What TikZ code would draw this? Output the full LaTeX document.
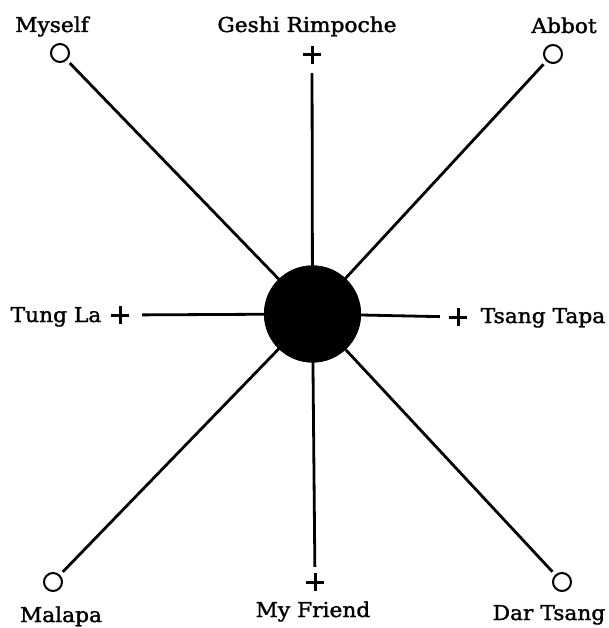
\documentclass[tikz,border=0pt]{standalone}
\usepackage{fontspec}
\setmainfont[FakeBold=1.6,FakeStretch=1.06]{DejaVu Serif}
\begin{document}
\begin{tikzpicture}[x=1pt,y=-1pt,
  lbl/.style={font=\fontsize{20.5}{24}\selectfont, anchor=base, inner sep=0pt},
  opencirc/.style={circle, draw, line width=2pt, minimum size=18pt, inner sep=0pt},
  plusmark/.style={minimum size=18pt, inner sep=0pt,
    path picture={\draw[line width=3pt]
      (path picture bounding box.north) -- (path picture bounding box.south)
      (path picture bounding box.west) -- (path picture bounding box.east);}},
  spoke/.style={line width=2.8pt},
  hub/.style={circle, fill=black, minimum size=97pt, inner sep=0pt}]
\useasboundingbox (0,0) rectangle (609,628);
% hub
\node[hub] (c) at (312.5,314) {};
% end marks
\node[opencirc] (myself) at (60,53) {};
\node[plusmark] (geshi) at (312,55) {};
\node[opencirc] (abbot) at (553,54) {};
\node[plusmark] (tung) at (120,315) {};
\node[plusmark] (tsang) at (458,317) {};
\node[opencirc] (malapa) at (53,582) {};
\node[plusmark] (friend) at (315,582) {};
\node[opencirc] (dar) at (562,582) {};
% labels
\node[lbl] (lmyself) at (52,32) {Myself};
\node[lbl] (lgeshi) at (307,32) {Geshi Rimpoche};
\node[lbl] (labbot) at (564,33) {Abbot};
\node[lbl] (ltung) at (56,322) {Tung La};
\node[lbl] (ltsang) at (543,323) {Tsang Tapa};
\node[lbl] (lmalapa) at (61,622) {Malapa};
\node[lbl] (lfriend) at (313,617) {My Friend};
\node[lbl] (ldar) at (549,620) {Dar Tsang};
% spokes
\draw[spoke, shorten <=4pt] (myself) -- (c.center);
\draw[spoke, shorten <=9pt] (geshi) -- (c.center);
\draw[spoke, shorten <=4pt] (abbot) -- (c.center);
\draw[spoke, shorten <=13pt] (tung) -- (c.center);
\draw[spoke, shorten <=9pt] (tsang) -- (c.center);
\draw[spoke, shorten <=4pt] (malapa) -- (c.center);
\draw[spoke, shorten <=6pt] (friend) -- (c.center);
\draw[spoke, shorten <=4pt] (dar) -- (c.center);
\node[hub] at (c) {};
\end{tikzpicture}
\end{document}
